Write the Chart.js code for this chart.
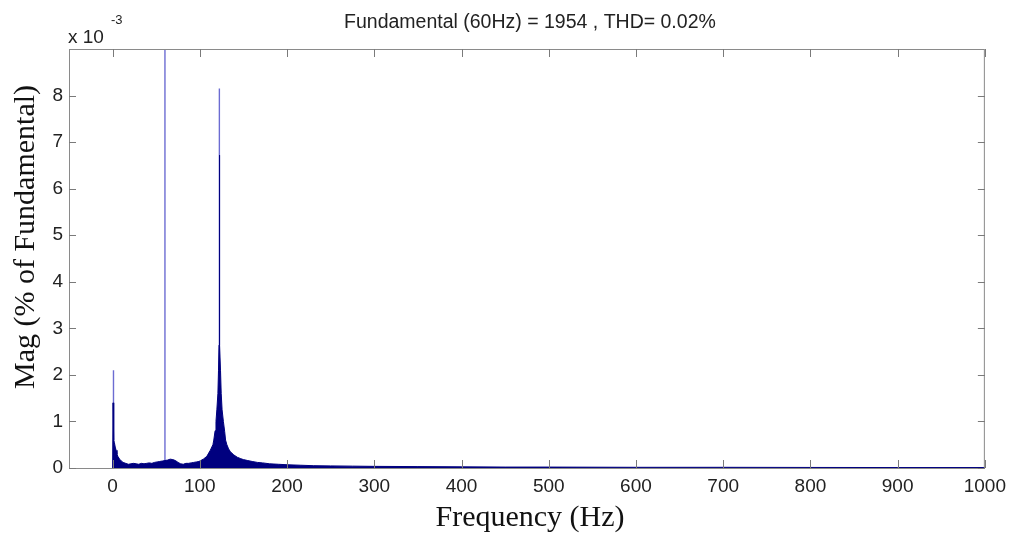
<!DOCTYPE html>
<html><head><meta charset="utf-8">
<script src="https://cdn.jsdelivr.net/npm/chart.js@4/dist/chart.umd.min.js"></script>
<style>html,body{margin:0;padding:0;background:#fff}#wrap{width:1013px;height:542px}</style>
</head><body><div id="wrap"><canvas id="c" width="1013" height="542"></canvas></div>
<script>
// Spectrum envelope: frequency (Hz) and magnitude (x1e-3 % of fundamental)
const freqHz = [0, 0.5, 1, 1.5, 2, 3, 4, 5, 6, 8, 10, 12, 15, 18, 21, 24, 27, 30, 33, 36, 39, 42, 45, 48, 51, 54, 57, 60, 63, 66, 69, 72, 75, 78, 81, 84, 87, 90, 93, 96, 99, 102, 104, 108, 112, 115, 116, 117.5, 118.5, 119.5, 120.7, 121.4, 122, 122.4, 122.8, 123.7, 124.5, 125.5, 127, 128.5, 129.5, 131, 133, 135, 139, 143, 147, 150, 155, 160, 166, 172, 180, 190, 200, 215, 230, 250, 275, 300, 350, 400, 450, 500, 600, 700, 800, 900, 1000];
const magPct = [0, 1.4, 1.4, 0.6, 0.55, 0.45, 0.38, 0.3, 0.25, 0.19, 0.15, 0.12, 0.1, 0.08, 0.09, 0.1, 0.09, 0.08, 0.1, 0.09, 0.1, 0.11, 0.1, 0.12, 0.13, 0.14, 0.15, 0.16, 0.17, 0.19, 0.18, 0.16, 0.12, 0.09, 0.08, 0.1, 0.1, 0.11, 0.12, 0.13, 0.14, 0.17, 0.19, 0.25, 0.38, 0.5, 0.6, 0.8, 1.0, 1.25, 1.6, 2.1, 2.64, 6.72, 2.64, 2.1, 1.6, 1.25, 1.0, 0.78, 0.6, 0.5, 0.41, 0.35, 0.28, 0.23, 0.2, 0.18, 0.16, 0.14, 0.12, 0.11, 0.09, 0.08, 0.07, 0.06, 0.05, 0.045, 0.04, 0.035, 0.03, 0.025, 0.02, 0.02, 0.015, 0.015, 0.012, 0.01, 0.01];
// Narrow spectral lines (thin lighter strokes)
const spikeFreqHz = [1, 60, 122.4];
const spikeMagPct = [2.1, 100000, 8.15];
const xTickValues = [0, 100, 200, 300, 400, 500, 600, 700, 800, 900, 1000];
const yTickValues = [0, 1, 2, 3, 4, 5, 6, 7, 8];
const titleText = 'Fundamental (60Hz) = 1954 , THD= 0.02%';
const xTitle = 'Frequency (Hz)';
const yTitle = 'Mag (% of Fundamental)';
const expBase = 'x 10';
const expPow = '-3';

const mainData = freqHz.map((f, i) => ({x: f, y: magPct[i]}));
const spikeData = [];
spikeFreqHz.forEach((f, i) => {
  spikeData.push({x: f, y: 0}, {x: f, y: spikeMagPct[i]}, {x: f, y: null});
});

const sans = '"Liberation Sans", Arial, sans-serif';
const serif = '"Liberation Serif", "Times New Roman", serif';

const decor = {
  id: 'decor',
  afterDraw(chart) {
    const {ctx, chartArea: a, scales} = chart;
    ctx.save();
    ctx.strokeStyle = '#8a8a8a';
    ctx.lineWidth = 1;
    ctx.strokeRect(a.left + 0.5, a.top + 0.5, a.right - a.left - 1, a.bottom - a.top);
    ctx.strokeStyle = '#7a7a7a';
    ctx.beginPath();
    xTickValues.forEach(v => {
      const px = Math.round(scales.x.getPixelForValue(v)) + 0.5;
      ctx.moveTo(px, a.bottom); ctx.lineTo(px, a.bottom - 8);
      ctx.moveTo(px, a.top); ctx.lineTo(px, a.top + 8);
    });
    yTickValues.forEach(v => {
      const py = Math.round(scales.y.getPixelForValue(v)) + 0.5;
      ctx.moveTo(a.left, py); ctx.lineTo(a.left + 7, py);
      ctx.moveTo(a.right, py); ctx.lineTo(a.right - 7, py);
    });
    ctx.stroke();
    ctx.fillStyle = '#222';
    ctx.font = '19.5px ' + sans;
    ctx.textAlign = 'center';
    ctx.textBaseline = 'alphabetic';
    ctx.fillText(titleText, (a.left + a.right) / 2 + 3, 28);
    ctx.font = '19px ' + sans;
    ctx.textAlign = 'left';
    ctx.fillText(expBase, a.left - 1, 43);
    ctx.font = '13px ' + sans;
    ctx.fillText(expPow, a.left + 42, 24);
    ctx.fillStyle = '#111';
    ctx.font = '30px ' + serif;
    ctx.textAlign = 'center';
    ctx.fillText(xTitle, 530, 526);
    ctx.translate(34, 237);
    ctx.rotate(-Math.PI / 2);
    ctx.fillText(yTitle, 0, 0);
    ctx.restore();
  }
};

new Chart(document.getElementById('c'), {
  type: 'line',
  data: {
    datasets: [
      {data: mainData, borderColor: '#00007f', backgroundColor: '#00007f', borderWidth: 1, fill: 'origin', pointRadius: 0, tension: 0, order: 1},
      {data: spikeData, borderColor: '#6c6cd2', borderWidth: 1.4, fill: false, pointRadius: 0, spanGaps: false, order: 2}
    ]
  },
  options: {
    responsive: false,
    animation: false,
    devicePixelRatio: 1,
    layout: {padding: {left: 0, top: 49, right: 27, bottom: 0}},
    plugins: {legend: {display: false}, tooltip: {enabled: false}, title: {display: false}},
    scales: {
      x: {
        type: 'linear', min: -50, max: 1000,
        afterBuildTicks: s => { s.ticks = xTickValues.map(v => ({value: v})); },
        afterFit: s => { s.height = 74; },
        grid: {display: false, drawTicks: false},
        border: {display: false},
        ticks: {color: '#222', font: {family: sans, size: 19}, padding: 7, maxRotation: 0, autoSkip: false, callback: v => String(v)}
      },
      y: {
        type: 'linear', min: 0, max: 9,
        afterBuildTicks: s => { s.ticks = yTickValues.map(v => ({value: v})); },
        afterFit: s => { s.width = 69; },
        grid: {display: false, drawTicks: false},
        border: {display: false},
        ticks: {color: '#222', font: {family: sans, size: 19}, padding: 6, autoSkip: false, callback: v => String(v)}
      }
    }
  },
  plugins: [decor]
});
</script></body></html>
